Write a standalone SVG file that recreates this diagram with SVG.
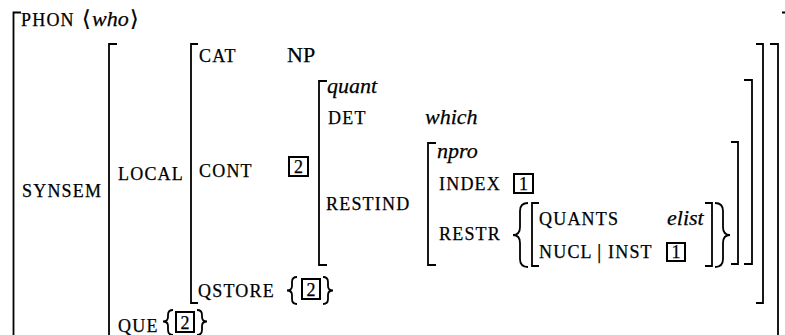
<svg xmlns="http://www.w3.org/2000/svg" width="785" height="335" viewBox="0 0 785 335" font-family="'Liberation Serif', 'Times New Roman', Times, 'DejaVu Serif', serif">
<style>
.t { font-family: 'Liberation Serif', 'Times New Roman', Times, 'DejaVu Serif', serif; fill: #000; stroke: #000; stroke-width: 0.25; }
.sc { font-size: 18px; letter-spacing: 1.2px; }
.it { font-size: 22px; font-style: italic; }
.rm { font-size: 22px; }
.num { font-size: 18px; text-anchor: middle; }
.br { fill: none; stroke: #000; stroke-width: 1.8; }
.bx { fill: none; stroke: #000; stroke-width: 2; }
</style>
<rect width="785" height="335" fill="#fff"/>
<g id="outer">
  <path class="br" d="M21 12.5 H13.5 V340"/>
  <path class="br" d="M782 12.5 H786 V340"/>
  <text class="t sc" x="21" y="26">PHON</text>
  <text class="t rm" x="82" y="26">⟨</text>
  <text class="t it" x="92" y="26">who</text>
  <text class="t rm" x="130" y="26">⟩</text>
  <text class="t sc" x="22" y="197">SYNSEM</text>
</g>
<g id="synsem">
  <path class="br" d="M117 44 H109 V340"/>
  <path class="br" d="M770 44 H778 V340"/>
  <text class="t sc" x="118" y="180">LOCAL</text>
  <text class="t sc" x="118" y="332">QUE</text>
  <path class="br" d="M173 310 Q168 310 168 315 L168 317 Q168 321.5 163 321.5 Q168 321.5 168 326 L168 330 Q168 335 173 335"/>
  <rect class="bx" x="176" y="312" width="18" height="20"/>
  <text class="t num" x="185" y="329">2</text>
  <path class="br" d="M197 310 Q202 310 202 315 L202 317 Q202 321.5 207 321.5 Q202 321.5 202 326 L202 330 Q202 335 197 335"/>
</g>
<g id="local">
  <path class="br" d="M198 44 H191 V303 H198"/>
  <path class="br" d="M756 44 H763 V303 H756"/>
  <text class="t sc" x="199" y="62">CAT</text>
  <text class="t rm" x="287" y="62">NP</text>
  <text class="t sc" x="199" y="177">CONT</text>
  <rect class="bx" x="289" y="157" width="19" height="19"/>
  <text class="t num" x="298.5" y="173">2</text>
  <text class="t sc" x="198" y="297">QSTORE</text>
  <path class="br" d="M297 277 Q292 277 292 282 L292 286 Q292 290.5 287 290.5 Q292 290.5 292 295 L292 299 Q292 304 297 304"/>
  <rect class="bx" x="302" y="279" width="18" height="20"/>
  <text class="t num" x="311" y="296">2</text>
  <path class="br" d="M323 277 Q328 277 328 282 L328 286 Q328 290.5 333 290.5 Q328 290.5 328 295 L328 299 Q328 304 323 304"/>
</g>
<g id="cont">
  <path class="br" d="M327 81 H319 V265 H327"/>
  <path class="br" d="M744 80 H752 V264 H744"/>
  <text class="t it" x="327" y="93">quant</text>
  <text class="t sc" x="328" y="124">DET</text>
  <text class="t it" x="425" y="124">which</text>
  <text class="t sc" x="326" y="210">RESTIND</text>
</g>
<g id="restind">
  <path class="br" d="M436 143 H428 V265 H436"/>
  <path class="br" d="M731 142 H738 V264 H731"/>
  <text class="t it" x="437" y="158">npro</text>
  <text class="t sc" x="439" y="190">INDEX</text>
  <rect class="bx" x="514" y="174" width="19" height="19"/>
  <text class="t num" x="523.5" y="190">1</text>
  <text class="t sc" x="439" y="240">RESTR</text>
  <path class="br" d="M528 203 Q520 203 520 211 L520 227 Q520 235 513 235 Q520 235 520 243 L520 259 Q520 267 528 267"/>
  <path class="br" d="M715 203 Q723 203 723 211 L723 227 Q723 235 730 235 Q723 235 723 243 L723 259 Q723 267 715 267"/>
</g>
<g id="restr">
  <path class="br" d="M539 203 H532 V266 H539"/>
  <path class="br" d="M705 203 H712 V266 H705"/>
  <text class="t sc" x="539" y="225">QUANTS</text>
  <text class="t it" x="667" y="225">elist</text>
  <text class="t sc" x="539" y="258">NUCL</text>
  <text class="t rm" x="597" y="258" font-size="20">|</text>
  <text class="t sc" x="608" y="258">INST</text>
  <rect class="bx" x="667" y="243" width="18" height="18"/>
  <text class="t num" x="676" y="258">1</text>
</g>
</svg>
